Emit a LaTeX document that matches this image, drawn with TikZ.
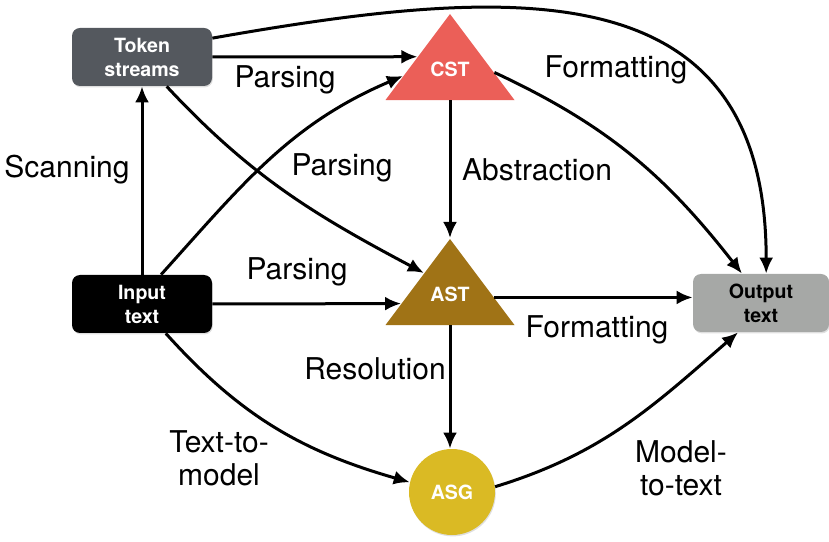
\documentclass[tikz,border=0pt]{standalone}
\usepackage{fontspec}
\setmainfont{TeX Gyre Heros}
\usetikzlibrary{shapes.geometric,arrows.meta,calc,shadows}

\definecolor{tokgray}{HTML}{54585E}
\definecolor{outgray}{HTML}{A6A8A6}
\definecolor{cstred}{HTML}{EB5F58}
\definecolor{astbrown}{HTML}{A07316}
\definecolor{asgyellow}{HTML}{DABA24}

\tikzset{
	box/.style={rectangle, rounded corners=4pt, minimum width=70pt, minimum height=29pt, inner sep=0pt, align=center,
		font=\fontsize{9.8}{12}\selectfont\bfseries, text=white,
		drop shadow={opacity=0.25, shadow xshift=0.4pt, shadow yshift=-0.7pt}},
	tri/.style={isosceles triangle, shape border rotate=90, isosceles triangle stretches,
		minimum width=64.5pt, minimum height=43pt, inner sep=0pt, anchor=apex},
	nodetext/.style={font=\fontsize{9.8}{12}\selectfont\bfseries, text=white},
	lbl/.style={font=\fontsize{15}{16.5}\selectfont, align=center},
	arr/.style={-{Latex[length=8pt,width=7pt]}, line width=1.5pt}
}

\begin{document}
\begin{tikzpicture}[x=0.5pt,y=0.5pt]
	\useasboundingbox (0,0) rectangle (829,541);

	\node[box, fill=tokgray] (tok) at (142,484) {Token\\streams};
	\node[box, fill=black] (inp) at (142,237) {Input\\text};
	\node[box, fill=outgray, text=black, minimum width=68pt] (out) at (761,238) {Output\\text};
	\node[tri, fill=cstred] (cst) at (450,528) {};
	\node[tri, fill=astbrown] (ast) at (450,303) {};
	\node[circle, fill=asgyellow, minimum size=43pt, inner sep=0pt, nodetext,
		drop shadow={opacity=0.25, shadow xshift=0.4pt, shadow yshift=-0.7pt}] (asg) at (452,49) {ASG};
	\node[nodetext] at ($(cst.apex)!0.64!(cst.lower side)$) {CST};
	\node[nodetext] at ($(ast.apex)!0.65!(ast.lower side)$) {AST};

	% connectors
	\draw[arr] (inp) -- (tok);
	\draw[arr] (tok.east) -- ($(cst.apex)!0.5!(cst.left corner)$);
	\draw[arr] (tok.-50) to[out=-47,in=152] ($(ast.apex)!0.4!(ast.left corner)$);
	\draw[arr] (tok.15) to[out=10,in=90,looseness=1.3] (out.80);
	\draw[arr] (inp.57) to[out=48,in=-157] ($(cst.apex)!0.72!(cst.left corner)$);
	\draw[arr] (inp.east) -- ($(ast.apex)!0.75!(ast.left corner)$);
	\draw[arr] (cst.lower side) -- (ast.apex);
	\draw[arr] ($(cst.apex)!0.68!(cst.right corner)$) to[out=-25,in=128] (out.123);
	\coordinate (astr) at ($(ast.apex)!0.68!(ast.right corner)$);
	\draw[arr] (astr) -- (astr -| out.west);
	\draw[arr] (ast.lower side) -- (ast.lower side |- asg.north);
	\draw[arr] (inp.-51) to[out=-48,in=164] (asg.167);
	\draw[arr] (asg.7) to[out=17,in=-139] (out.232);

	% labels
	\node[lbl] at (67,371) {Scanning};
	\node[lbl] at (285,461) {Parsing};
	\node[lbl] at (342,373) {Parsing};
	\node[lbl] at (297,269) {Parsing};
	\node[lbl] at (537,371) {Abstraction};
	\node[lbl] at (616,471) {Formatting};
	\node[lbl] at (597,211) {Formatting};
	\node[lbl] at (375,172) {Resolution};
	\node[lbl] at (219,83) {Text-to-\\model};
	\node[lbl] at (681,73) {Model-\\to-text};

\end{tikzpicture}
\end{document}
